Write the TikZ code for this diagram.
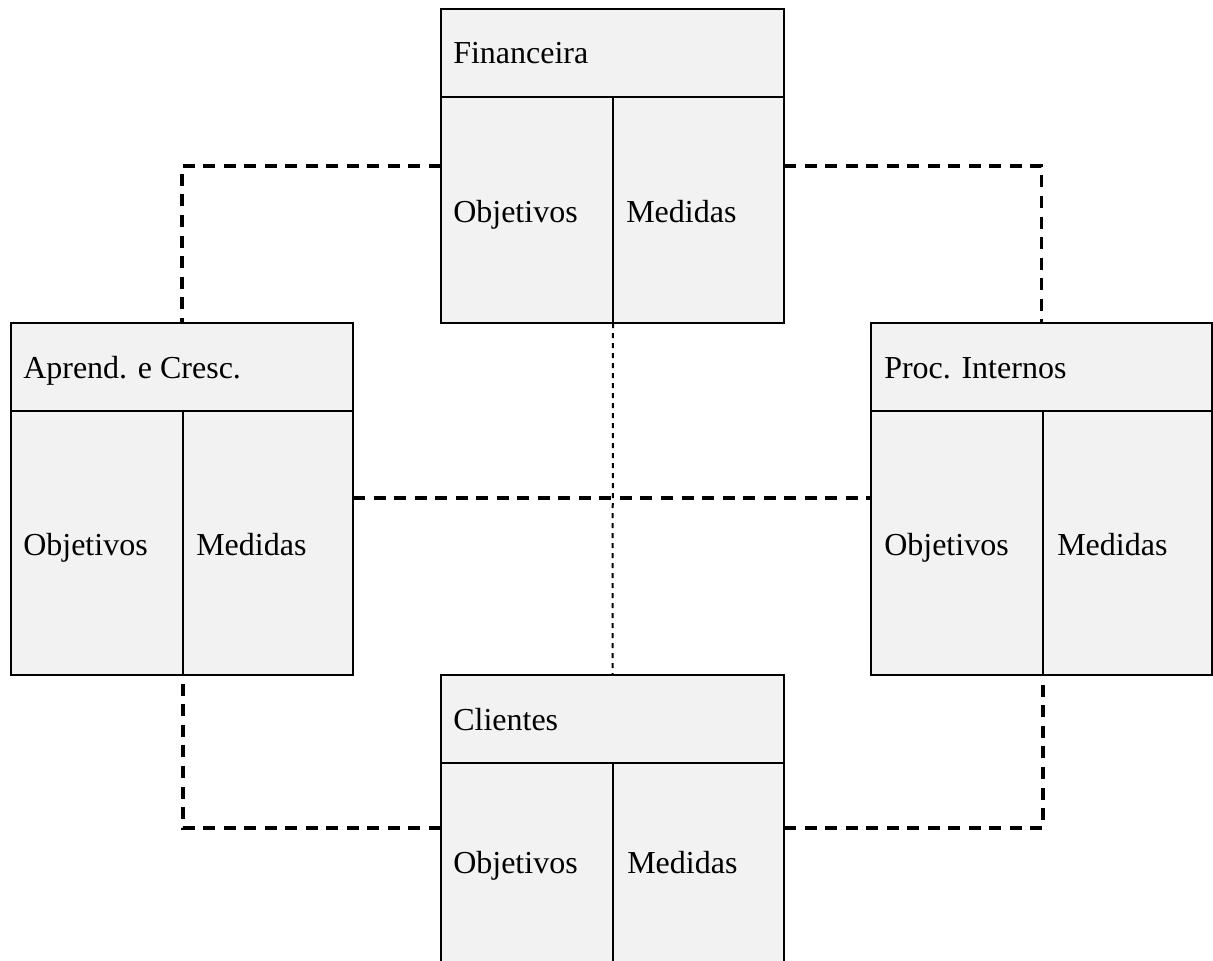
\documentclass[tikz,border=0pt]{standalone}
\usepackage{fontspec}
\setmainfont{Liberation Serif}
\definecolor{cellgray}{HTML}{F2F2F2}
\begin{document}
\begin{tikzpicture}[x=0.75pt,y=-0.75pt,
  cell/.style={draw, line width=1.9pt, fill=cellgray, inner sep=0pt, outer sep=0pt, anchor=north west},
  sz/.style 2 args={minimum width=#1*0.75pt, minimum height=#2*0.75pt},
  lbl/.style={anchor=base west, inner sep=0pt, font=\fontsize{24}{28}\selectfont},
  dashline/.style={line width=2.4pt, dash pattern=on 9pt off 6.4pt},
  dotline/.style={line width=1.5pt, dash pattern=on 3.75pt off 3.75pt}]
\clip (0,0) rectangle (1213,960);
\fill[white] (0,0) rectangle (1213,960);
% Financeira
\node[cell, sz={343}{88}] (fh) at (441,9) {};
\node[cell, sz={172}{226}] (fo) at (441,97) {};
\node[cell, sz={171}{226}] (fm) at (613,97) {};
% Aprend. e Cresc.
\node[cell, sz={342}{88}] (ah) at (11,323) {};
\node[cell, sz={172}{264}] (ao) at (11,411) {};
\node[cell, sz={170}{264}] (am) at (183,411) {};
% Proc. Internos
\node[cell, sz={341}{88}] (ph) at (871,323) {};
\node[cell, sz={172}{264}] (po) at (871,411) {};
\node[cell, sz={169}{264}] (pm) at (1043,411) {};
% Clientes
\node[cell, sz={343}{88}] (ch) at (441,675) {};
\node[cell, sz={172}{240}] (co) at (441,763) {};
\node[cell, sz={171}{240}] (cm) at (613,763) {};
% labels
\node[lbl] (tfh) at (453,63) {Financeira};
\node[lbl] (tfo) at (453,222) {Objetivos};
\node[lbl] (tfm) at (626,222) {Medidas};
\node[lbl] (tah) at (23,378) {Aprend. e Cresc.};
\node[lbl] (tao) at (23,555) {Objetivos};
\node[lbl] (tam) at (196,555) {Medidas};
\node[lbl] (tph) at (884,378) {Proc. Internos};
\node[lbl] (tpo) at (884,555) {Objetivos};
\node[lbl] (tpm) at (1057,555) {Medidas};
\node[lbl] (tch) at (453,730) {Clientes};
\node[lbl] (tco) at (453,873) {Objetivos};
\node[lbl] (tcm) at (627,873) {Medidas};
% connectors
\draw[dashline] ([yshift=33pt]fo.west) -| (ah.north);
\draw[dashline] ([yshift=33pt]fm.east) -| (ph.north);
\draw[dashline] ([yshift=33.75pt]am.east) -- ([yshift=33.75pt]po.west);
\draw[dotline] (fo.south east) -- (ch.north);
\draw[dashline] ([yshift=41.25pt]co.west) -| (ao.south east);
\draw[dashline] ([yshift=41.25pt]cm.east) -| (pm.south west);
\end{tikzpicture}
\end{document}
